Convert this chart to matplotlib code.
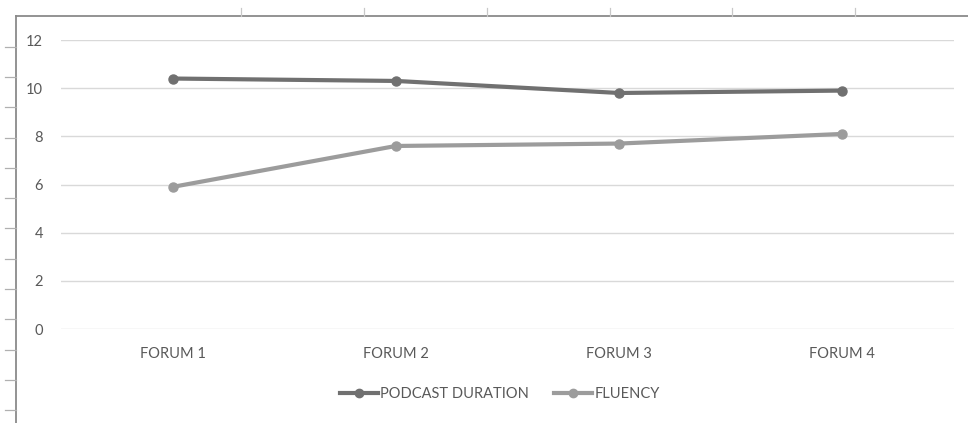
import matplotlib
matplotlib.use("Agg")
import matplotlib.pyplot as plt
from matplotlib.lines import Line2D

categories = ["FORUM 1", "FORUM 2", "FORUM 3", "FORUM 4"]
podcast_duration = [10.4, 10.3, 9.8, 9.9]
fluency = [5.9, 7.6, 7.7, 8.1]
y_ticks = [0, 2, 4, 6, 8, 10, 12]

W, H = 968, 423
fig = plt.figure(figsize=(W / 100, H / 100), dpi=100)
fig.patch.set_facecolor("white")

FONT = "Lato"
FS = 10.5
TEXT = "#595959"

# sheet frame behind the chart (top and left border with row/column ticks)
frame = fig.add_axes([0, 0, 1, 1])
frame.set_xlim(0, W)
frame.set_ylim(H, 0)
frame.axis("off")
frame.plot([15.5, W], [16, 16], color="#8a8a8a", lw=1.3)
frame.plot([15.5, 15.5], [16, H], color="#8a8a8a", lw=1.3)
for x in [241, 364, 487, 610, 732, 855]:
    frame.plot([x, x], [8, 16], color="#c8c8c8", lw=0.9)
y = 46.7
while y < H:
    frame.plot([5, 15.5], [y, y], color="#b0b0b0", lw=0.9)
    y += 30.3

# chart plot area
left, right = 61 / W, 954 / W
bottom, top = 1 - 329 / H, 1 - 40 / H
ax = fig.add_axes([left, bottom, right - left, top - bottom])
ax.patch.set_alpha(0)
xs = list(range(len(categories)))
ax.set_xlim(-0.5, len(categories) - 0.5)
ax.set_ylim(0, 12)
ax.set_yticks(y_ticks)
ax.set_xticks(xs)
ax.set_xticklabels(categories)
for s in ax.spines.values():
    s.set_visible(False)
ax.grid(axis="y", color="#d9d9d9", lw=1.0)
ax.set_axisbelow(True)
ax.tick_params(axis="both", length=0, labelcolor=TEXT, labelsize=FS)
ax.tick_params(axis="y", pad=13)
ax.tick_params(axis="x", pad=13)
for lab in ax.get_xticklabels() + ax.get_yticklabels():
    lab.set_fontfamily(FONT)

c1, c2 = "#707070", "#9c9c9c"
ax.plot(xs, podcast_duration, color=c1, lw=3.0, marker="o", ms=6.5,
        solid_capstyle="round", clip_on=False)
ax.plot(xs, fluency, color=c2, lw=3.0, marker="o", ms=6.5,
        solid_capstyle="round", clip_on=False)

handles = [
    Line2D([], [], color=c1, lw=3.0, marker="o", ms=6),
    Line2D([], [], color=c2, lw=3.0, marker="o", ms=6),
]
leg = fig.legend(handles, ["PODCAST DURATION", "FLUENCY"], loc="center",
                 bbox_to_anchor=(500 / W, 1 - 394 / H), ncol=2, frameon=False,
                 handlelength=2.6, handletextpad=0.2, columnspacing=1.7,
                 prop={"family": FONT, "size": FS})
for t in leg.get_texts():
    t.set_color(TEXT)

fig.savefig("out.png", dpi=100, facecolor="white")
